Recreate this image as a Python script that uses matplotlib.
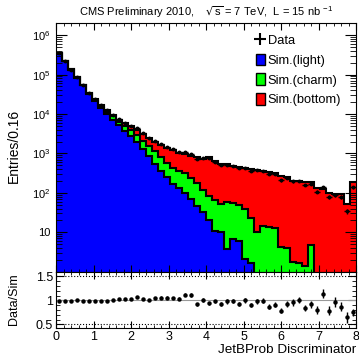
import numpy as np
import matplotlib
matplotlib.use('Agg')
import matplotlib.pyplot as plt
from matplotlib.patches import Patch
from matplotlib.lines import Line2D
from matplotlib.ticker import FuncFormatter, LogLocator, MultipleLocator, NullFormatter

plt.rcParams['font.family'] = ['Liberation Sans', 'DejaVu Sans']
plt.rcParams['mathtext.default'] = 'regular'

# 50 bins of width 0.16 between 0 and 8
bin_edges = np.linspace(0, 8, 51)

sim_light = [343000, 221000, 133000, 83200, 53100, 32400, 21400, 14100, 10000, 7240,
             5250, 3800, 2820, 2000, 1320, 871, 550, 363, 251, 170,
             135, 100, 69, 47, 32, 21, 11, 10, 3.7, 6.6,
             6.0, 2.1, 1.7, 0.8, 0.3, 0.3, 0.3, 0.3, 0.3, 0.3,
             0.3, 0.3, 0.3, 0.3, 0.3, 0.3, 0.3, 0.3, 0.3, 0.3]
sim_charm = [2500, 2200, 1900, 1600, 1300, 1200, 1510, 1750, 1480, 1470,
             1210, 1100, 1070, 950, 770, 643, 625, 469, 338, 267,
             228, 216, 171, 127, 83, 64, 55, 42, 56, 48,
             44, 38, 22, 9.4, 13.8, 13.2, 12.3, 3.9, 3.7, 1.5,
             1.4, 1.1, 4.4, 0.3, 0.3, 0.3, 0.3, 0.3, 0.3, 0.3]
sim_bottom = [1500, 1200, 900, 700, 1000, 700, 1080, 1130, 1110, 840,
              787, 990, 1008, 1030, 1073, 998, 820, 828, 824, 765,
              684, 639, 631, 620, 626, 747, 565, 497, 465, 435,
              407, 387, 374, 370, 349, 325, 311, 259, 253, 202,
              198, 189, 181, 134, 123, 97, 91, 91, 52, 186]
data_ratio = [0.99, 0.99, 0.99, 1.01, 0.99, 0.99, 0.99, 0.99, 0.99, 1.01,
              1.03, 1.03, 1.04, 1.08, 1.04, 1.01, 1.05, 1.06, 1.06, 1.05,
              1.04, 1.12, 1.11, 0.92, 1.01, 0.94, 0.98, 0.93, 0.98, 0.99,
              0.93, 1.00, 0.91, 0.98, 0.99, 0.87, 0.91, 0.79, 0.93, 0.96,
              1.01, 0.84, 0.92, 0.80, 1.14, 0.79, 0.96, 0.87, 0.65, 0.75]

light = np.array(sim_light, float)
light_charm = light + np.array(sim_charm, float)
total = light_charm + np.array(sim_bottom, float)
ratio = np.array(data_ratio)
data = total * ratio
data_err = np.sqrt(data)
ratio_err = data_err / total
centers = 0.5 * (bin_edges[1:] + bin_edges[:-1])

fig = plt.figure(figsize=(3.59, 3.59), dpi=100)
ax = fig.add_axes([0.156, 0.2432, 0.8357, 0.6918])
rax = fig.add_axes([0.156, 0.0855, 0.8357, 0.1577], sharex=ax)

base = 1e-2
ax.stairs(total, bin_edges, baseline=base, fill=True, color='#ff0000')
ax.stairs(light_charm, bin_edges, baseline=base, fill=True, color='#00ff00')
ax.stairs(light, bin_edges, baseline=base, fill=True, color='#0000ff')
for h in (total, light_charm, light):
    ax.stairs(h, bin_edges, baseline=None, color='k', lw=1.5)

ax.errorbar(centers, data, yerr=data_err, xerr=0.08, fmt='o', ms=1.8, color='k',
            lw=1, capsize=0)

ax.set_yscale('log')
ax.set_ylim(1, 2e6)
ax.set_xlim(0, 8)


def log_label(v, pos):
    if v < 5:
        return ''
    if abs(v - 10) < 1:
        return '10'
    return r'$10^{%d}$' % round(np.log10(v))


ax.yaxis.set_major_locator(LogLocator(base=10, numticks=10))
ax.yaxis.set_minor_locator(LogLocator(base=10, subs=np.arange(2, 10), numticks=10))
ax.yaxis.set_major_formatter(FuncFormatter(log_label))
ax.yaxis.set_minor_formatter(NullFormatter())
ax.xaxis.set_major_locator(MultipleLocator(1))
ax.xaxis.set_minor_locator(MultipleLocator(0.2))
ax.tick_params(which='both', direction='in', top=True, right=True, labelbottom=False)
ax.tick_params(axis='y', which='major', length=8, labelsize=8, pad=4)
ax.tick_params(axis='y', which='minor', length=4)
ax.tick_params(axis='x', which='major', length=5)
ax.tick_params(axis='x', which='minor', length=2.5)

# ratio panel
rax.axhline(1, color='0.6', lw=0.8)
rax.axhline(0.5, color='k', lw=0.8, ls=':')
rax.axhline(1.5, color='k', lw=0.8, ls=':')
rax.errorbar(centers, ratio, yerr=ratio_err, fmt='o', ms=2.2, color='k', lw=1, capsize=0)
rax.set_ylim(0.42, 1.6)
rax.set_xlim(0, 8)
rax.yaxis.set_major_locator(MultipleLocator(0.5))
rax.yaxis.set_minor_locator(MultipleLocator(0.1))
rax.yaxis.set_major_formatter(FuncFormatter(lambda v, p: '%g' % v))
rax.tick_params(which='both', direction='in', top=True, right=True, labelsize=9, pad=2)
rax.tick_params(axis='y', which='major', length=6)
rax.tick_params(axis='y', which='minor', length=3)
rax.tick_params(axis='x', which='major', length=5)
rax.tick_params(axis='x', which='minor', length=2.5)

handles = [Line2D([], [], color='k', marker='+', ls='none', ms=9, mew=1.5),
           Patch(fc='#0000ff', ec='k', lw=1),
           Patch(fc='#00ff00', ec='k', lw=1),
           Patch(fc='#ff0000', ec='k', lw=1)]
labels = ['Data', 'Sim.(light)', 'Sim.(charm)', 'Sim.(bottom)']
fig.legend(handles, labels, loc='upper left', bbox_to_anchor=(0.713, 0.905),
           frameon=False, fontsize=9.3, handlelength=0.7, handleheight=1.0,
           handletextpad=0.2, labelspacing=0.5, borderpad=0, borderaxespad=0)

fig.text(0.574, 0.967, r'CMS Preliminary 2010,    $\sqrt{s}$ = 7 TeV,  L = 15 nb $^{-1}$',
         ha='center', va='center', fontsize=8)
fig.text(14 / 359, 1 - 146 / 359, 'Entries/0.16', rotation=90, ha='center', va='center',
         fontsize=10)
fig.text(14 / 359, 1 - 299 / 359, 'Data/Sim', rotation=90, ha='center', va='center',
         fontsize=9)
fig.text(356 / 359, 1 - 350 / 359, 'JetBProb Discriminator', ha='right', va='center',
         fontsize=9.7)

fig.savefig('out.png', dpi=100)
